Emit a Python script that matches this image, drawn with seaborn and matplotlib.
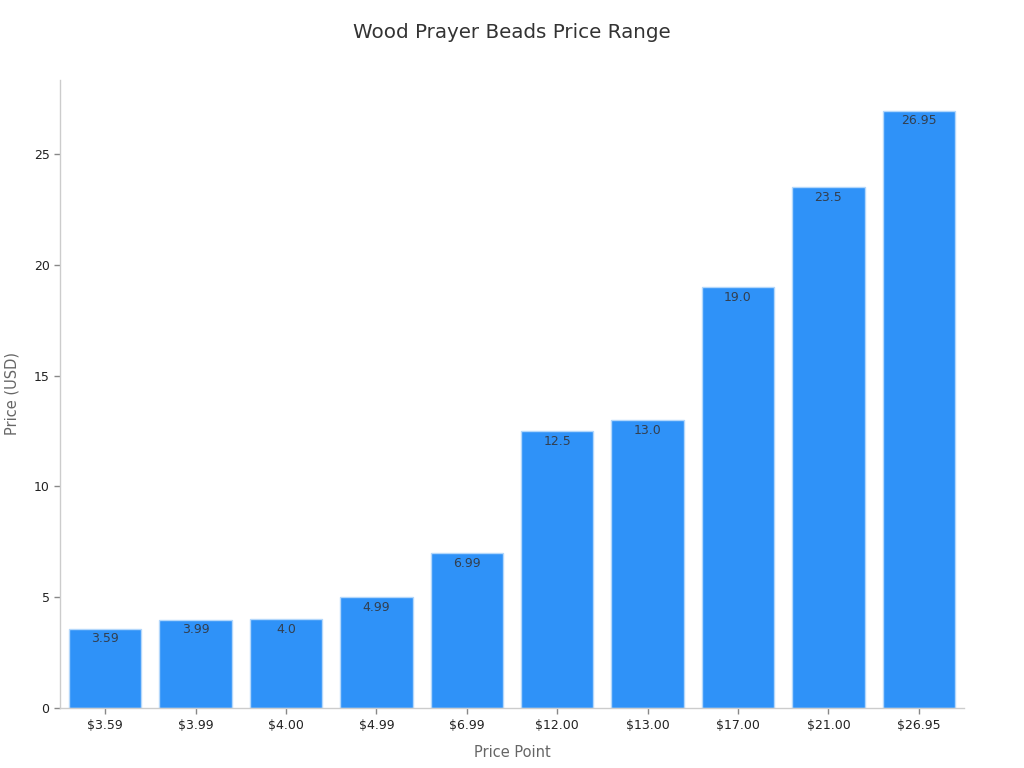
import pandas as pd
import matplotlib.pyplot as plt
import seaborn as sns

# Chart data
price_labels = ['$3.59', '$3.99', '$4.00', '$4.99', '$6.99',
                '$12.00', '$13.00', '$17.00', '$21.00', '$26.95']
prices = [3.59, 3.99, 4.0, 4.99, 6.99, 12.5, 13.0, 19.0, 23.5, 26.95]
bar_text = ['3.59', '3.99', '4.0', '4.99', '6.99', '12.5', '13.0', '19.0', '23.5', '26.95']

df = pd.DataFrame({'Price Point': price_labels, 'Price (USD)': prices})

sns.set_style('white')
plt.rcParams['font.family'] = ['DejaVu Sans']

fig = plt.figure(figsize=(10.24, 7.68), dpi=100)
ax = fig.add_axes([0.0586, 0.078, 0.8828, 0.818])

sns.barplot(data=df, x='Price Point', y='Price (USD)', color='#2f92f8',
            saturation=1, width=0.8, edgecolor='#b3d7fb', linewidth=1, ax=ax)

# value labels just inside the top of each bar
for i, (v, t) in enumerate(zip(prices, bar_text)):
    ax.text(i, v - 0.17, t, ha='center', va='top', fontsize=9, color='#333f4f')

ax.set_xlim(-0.5, 9.5)
ax.set_ylim(0, 28.34)
ax.set_yticks([0, 5, 10, 15, 20, 25])

ax.set_title('Wood Prayer Beads Price Range', fontsize=14.3, color='#333333', pad=30)
ax.set_xlabel('Price Point', fontsize=10.5, color='#666666', labelpad=10)
ax.set_ylabel('Price (USD)', fontsize=10.5, color='#666666', labelpad=10)

for side in ['top', 'right']:
    ax.spines[side].set_visible(False)
for side in ['left', 'bottom']:
    ax.spines[side].set_color('#cccccc')
    ax.spines[side].set_linewidth(1)

ax.tick_params(axis='both', colors='#888888', labelcolor='#222222',
               labelsize=9, length=4, width=1, left=True, bottom=True)

fig.savefig('out.png', dpi=100)
